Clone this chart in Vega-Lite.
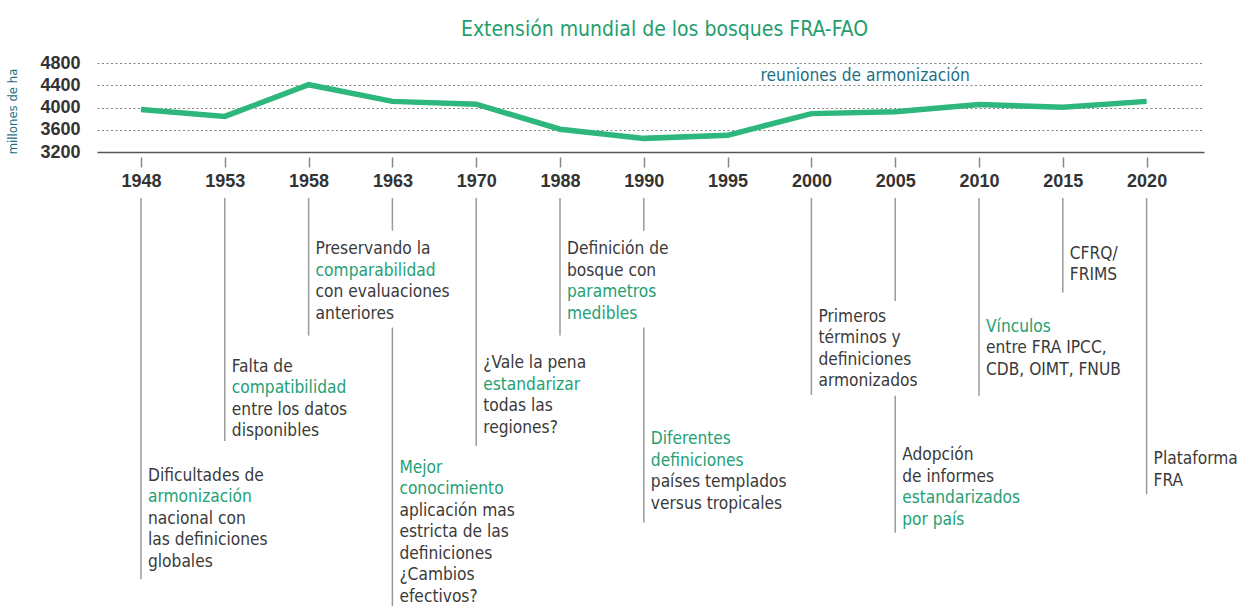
{
  "$schema": "https://vega.github.io/schema/vega-lite/v6.json",
  "width": 1107,
  "height": 543,
  "autosize": {"type": "none"},
  "padding": {"left": 97, "top": 63, "right": 33, "bottom": 0},
  "background": "white",
  "title": {
    "text": "Extensión mundial de los bosques FRA-FAO",
    "anchor": "middle",
    "frame": "group",
    "offset": 14,
    "dx": 14,
    "color": "#1f9e6e",
    "font": "DejaVu Sans Condensed, DejaVu Sans, sans-serif",
    "fontSize": 21,
    "fontWeight": "normal"
  },
  "config": {
    "view": {"stroke": null},
    "font": "DejaVu Sans Condensed, DejaVu Sans, sans-serif"
  },
  "datasets": {
    "forest": [
      {"year": "1948", "value": 3965},
      {"year": "1953", "value": 3840},
      {"year": "1958", "value": 4410},
      {"year": "1963", "value": 4110},
      {"year": "1970", "value": 4060},
      {"year": "1988", "value": 3610},
      {"year": "1990", "value": 3445},
      {"year": "1995", "value": 3500},
      {"year": "2000", "value": 3890},
      {"year": "2005", "value": 3925},
      {"year": "2010", "value": 4055},
      {"year": "2015", "value": 4005},
      {"year": "2020", "value": 4110}
    ],
    "rules": [
      {"year": "1948", "y1": 0, "y2": 17.73},
      {"year": "1953", "y1": 0, "y2": 11.3},
      {"year": "1958", "y1": 0, "y2": 6.4},
      {"year": "1963", "y1": 0, "y2": 1.52},
      {"year": "1963", "y1": 6.03, "y2": 18.98},
      {"year": "1970", "y1": 0, "y2": 11.53},
      {"year": "1988", "y1": 0, "y2": 6.4},
      {"year": "1990", "y1": 0, "y2": 1.52},
      {"year": "1990", "y1": 6.03, "y2": 15.1},
      {"year": "2000", "y1": 0, "y2": 9.16},
      {"year": "2005", "y1": 0, "y2": 4.79},
      {"year": "2005", "y1": 9.2, "y2": 15.57},
      {"year": "2010", "y1": 0, "y2": 9.2},
      {"year": "2015", "y1": 0, "y2": 4.4},
      {"year": "2020", "y1": 0, "y2": 13.78}
    ],
    "notes": [
      {"year": "1948", "pos": 12.93, "text": "Dificultades de", "tone": "n"},
      {"year": "1948", "pos": 13.93, "text": "armonización", "tone": "h"},
      {"year": "1948", "pos": 14.93, "text": "nacional con", "tone": "n"},
      {"year": "1948", "pos": 15.93, "text": "las definiciones", "tone": "n"},
      {"year": "1948", "pos": 16.93, "text": "globales", "tone": "n"},
      {"year": "1953", "pos": 7.85, "text": "Falta de", "tone": "n"},
      {"year": "1953", "pos": 8.85, "text": "compatibilidad", "tone": "h"},
      {"year": "1953", "pos": 9.85, "text": "entre los datos", "tone": "n"},
      {"year": "1953", "pos": 10.85, "text": "disponibles", "tone": "n"},
      {"year": "1958", "pos": 2.39, "text": "Preservando la", "tone": "n"},
      {"year": "1958", "pos": 3.39, "text": "comparabilidad", "tone": "h"},
      {"year": "1958", "pos": 4.39, "text": "con evaluaciones", "tone": "n"},
      {"year": "1958", "pos": 5.39, "text": "anteriores", "tone": "n"},
      {"year": "1963", "pos": 12.54, "text": "Mejor", "tone": "h"},
      {"year": "1963", "pos": 13.54, "text": "conocimiento", "tone": "h"},
      {"year": "1963", "pos": 14.54, "text": "aplicación mas", "tone": "n"},
      {"year": "1963", "pos": 15.54, "text": "estricta de las", "tone": "n"},
      {"year": "1963", "pos": 16.54, "text": "definiciones", "tone": "n"},
      {"year": "1963", "pos": 17.54, "text": "¿Cambios", "tone": "n"},
      {"year": "1963", "pos": 18.54, "text": "efectivos?", "tone": "n"},
      {"year": "1970", "pos": 7.69, "text": "¿Vale la pena", "tone": "n"},
      {"year": "1970", "pos": 8.69, "text": "estandarizar", "tone": "h"},
      {"year": "1970", "pos": 9.69, "text": "todas las", "tone": "n"},
      {"year": "1970", "pos": 10.69, "text": "regiones?", "tone": "n"},
      {"year": "1988", "pos": 2.39, "text": "Definición de", "tone": "n"},
      {"year": "1988", "pos": 3.39, "text": "bosque con", "tone": "n"},
      {"year": "1988", "pos": 4.39, "text": "parametros", "tone": "h"},
      {"year": "1988", "pos": 5.39, "text": "medibles", "tone": "h"},
      {"year": "1990", "pos": 11.22, "text": "Diferentes", "tone": "h"},
      {"year": "1990", "pos": 12.22, "text": "definiciones", "tone": "h"},
      {"year": "1990", "pos": 13.22, "text": "países templados", "tone": "n"},
      {"year": "1990", "pos": 14.22, "text": "versus tropicales", "tone": "n"},
      {"year": "2000", "pos": 5.52, "text": "Primeros", "tone": "n"},
      {"year": "2000", "pos": 6.52, "text": "términos y", "tone": "n"},
      {"year": "2000", "pos": 7.52, "text": "definiciones", "tone": "n"},
      {"year": "2000", "pos": 8.52, "text": "armonizados", "tone": "n"},
      {"year": "2005", "pos": 11.97, "text": "Adopción", "tone": "n"},
      {"year": "2005", "pos": 12.97, "text": "de informes", "tone": "n"},
      {"year": "2005", "pos": 13.97, "text": "estandarizados", "tone": "h"},
      {"year": "2005", "pos": 14.97, "text": "por país", "tone": "h"},
      {"year": "2010", "pos": 5.99, "text": "Vínculos", "tone": "h"},
      {"year": "2010", "pos": 6.99, "text": "entre FRA IPCC,", "tone": "n"},
      {"year": "2010", "pos": 7.99, "text": "CDB, OIMT, FNUB", "tone": "n"},
      {"year": "2015", "pos": 2.6, "text": "CFRQ/", "tone": "n"},
      {"year": "2015", "pos": 3.6, "text": "FRIMS", "tone": "n"},
      {"year": "2020", "pos": 12.15, "text": "Plataforma", "tone": "n"},
      {"year": "2020", "pos": 13.15, "text": "FRA", "tone": "n"}
    ],
    "meetings": [
      {"year": "2005", "value": 4566, "label": "reuniones de armonización"}
    ]
  },
  "resolve": {"scale": {"y": "independent"}, "axis": {"y": "independent"}},
  "layer": [
    {
      "layer": [
        {
          "data": {"name": "forest"},
          "mark": {"type": "line", "color": "#2db77c", "strokeWidth": 5.5},
          "encoding": {
            "x": {
              "field": "year",
              "type": "ordinal",
              "sort": null,
              "scale": {"type": "point", "domain": ["1948","1953","1958","1963","1970","1988","1990","1995","2000","2005","2010","2015","2020"], "padding": 0.605, "align": 0.434},
              "axis": {
                "orient": "bottom",
                "offset": -449,
                "domain": false,
                "ticks": true,
                "tickSize": 10,
                "tickColor": "#888888",
                "tickWidth": 1.5,
                "labelPadding": 5,
                "labelFont": "Liberation Sans, Arial, sans-serif",
                "labelFontSize": 18,
                "labelFontWeight": "bold",
                "labelColor": "#333333",
                "labelAngle": 0,
                "labelBaseline": "top",
                "title": null,
                "grid": false
              }
            },
            "y": {
              "field": "value",
              "type": "quantitative",
              "scale": {"domain": [3200, 4800], "range": [89, 0], "zero": false, "nice": false},
              "axis": {
                "values": [3200, 3600, 4000, 4400, 4800],
                "format": "d",
                "domain": false,
                "ticks": false,
                "grid": true,
                "gridDash": {"condition": {"test": "datum.value === 3200", "value": []}, "value": [2, 2.5]},
                "gridColor": {"condition": {"test": "datum.value === 3200", "value": "#555555"}, "value": "#777777"},
                "gridWidth": {"condition": {"test": "datum.value === 3200", "value": 1.6}, "value": 0.9},
                "labelPadding": 17,
                "labelFont": "Liberation Sans, Arial, sans-serif",
                "labelFontSize": 18,
                "labelFontWeight": "bold",
                "labelColor": "#333333",
                "labelOverlap": false,
                "title": "millones de ha",
                "titleColor": "#1c7085",
                "titleFontSize": 13,
                "titleFontWeight": "normal",
                "titleX": -78,
                "titleY": 48
              }
            }
          }
        },
        {
          "data": {"name": "meetings"},
          "mark": {"type": "text", "align": "center", "baseline": "middle", "dx": -30, "fontSize": 17.2, "color": "#1c7085"},
          "encoding": {
            "x": {"field": "year", "type": "ordinal", "sort": null, "scale": {"type": "point", "domain": ["1948","1953","1958","1963","1970","1988","1990","1995","2000","2005","2010","2015","2020"], "padding": 0.605, "align": 0.434}},
            "y": {"field": "value", "type": "quantitative", "scale": {"domain": [3200, 4800], "range": [89, 0], "zero": false, "nice": false}},
            "text": {"field": "label"}
          }
        }
      ]
    },
    {
      "layer": [
        {
          "data": {"name": "rules"},
          "mark": {"type": "rule", "color": "#9a9a9a", "strokeWidth": 1.5},
          "encoding": {
            "x": {"field": "year", "type": "ordinal", "sort": null, "scale": {"type": "point", "domain": ["1948","1953","1958","1963","1970","1988","1990","1995","2000","2005","2010","2015","2020"], "padding": 0.605, "align": 0.434}},
            "y": {"field": "y1", "type": "quantitative", "scale": {"domain": [0, 18.98], "range": [135, 543], "zero": false, "nice": false}, "axis": null},
            "y2": {"field": "y2"}
          }
        },
        {
          "data": {"name": "notes"},
          "mark": {"type": "text", "align": "left", "baseline": "middle", "dx": 7, "fontSize": 17.2},
          "encoding": {
            "x": {"field": "year", "type": "ordinal", "sort": null, "scale": {"type": "point", "domain": ["1948","1953","1958","1963","1970","1988","1990","1995","2000","2005","2010","2015","2020"], "padding": 0.605, "align": 0.434}},
            "y": {"field": "pos", "type": "quantitative", "scale": {"domain": [0, 18.98], "range": [135, 543], "zero": false, "nice": false}, "axis": null},
            "text": {"field": "text"},
            "color": {"field": "tone", "type": "nominal", "scale": {"domain": ["n", "h"], "range": ["#3a3a3a", "#24a074"]}, "legend": null}
          }
        }
      ]
    }
  ]
}
